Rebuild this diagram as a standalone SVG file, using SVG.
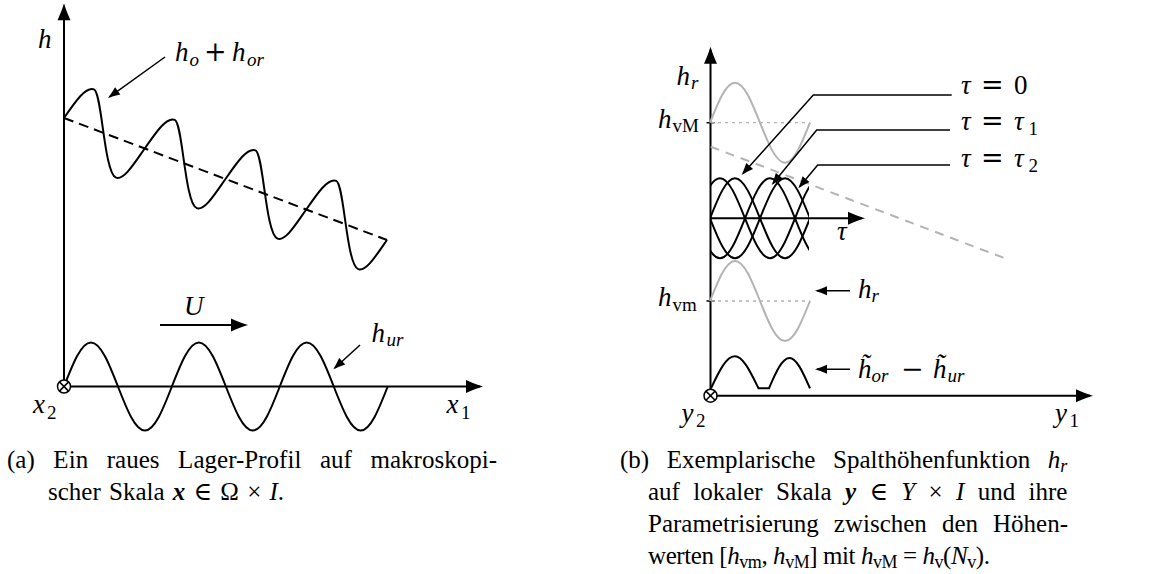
<svg xmlns="http://www.w3.org/2000/svg" width="1155" height="574" viewBox="0 0 1155 574">
<style>
.ln{fill:none;stroke:#000;stroke-width:2}
.th{fill:none;stroke:#000;stroke-width:1.5}
.gr{fill:none;stroke:#b3b3b3;stroke-width:2}
.dot{fill:none;stroke:#b3b3b3;stroke-width:1.3;stroke-dasharray:3 4}
.m{font-family:"Liberation Serif","DejaVu Serif",serif;font-style:italic;font-size:27px;fill:#000}
.s{font-size:19px}
.u{font-style:normal}
.op{font-family:"DejaVu Serif",serif;font-style:normal;font-size:27px}
.cap{font-family:"Liberation Serif","DejaVu Serif",serif;font-size:25px;fill:#000}
.i{font-style:italic}
.bi{font-style:italic;font-weight:bold}
.sub{font-size:18px}
</style>
<defs>
<marker id="ah" viewBox="-16 -8 20 16" refX="0" refY="0" markerWidth="20" markerHeight="16" markerUnits="userSpaceOnUse" orient="auto">
<path d="M3,0 C-2,-1.5 -8,-3.8 -14,-6.5 L-14,6.5 C-8,3.8 -2,1.5 3,0 Z" fill="#000"/>
</marker>
<marker id="as" viewBox="-12 -6 15 12" refX="0" refY="0" markerWidth="15" markerHeight="12" markerUnits="userSpaceOnUse" orient="auto">
<path d="M2,0 C-2,-1.2 -6,-2.8 -10,-4.5 L-10,4.5 C-6,2.8 -2,1.2 2,0 Z" fill="#000"/>
</marker>
<clipPath id="cl"><rect x="710" y="150" width="99" height="140"/></clipPath>
</defs>

<!-- Panel (a) -->
<g id="panel-a">
<g id="a-axes">
<line class="ln" x1="64" y1="386.5" x2="64" y2="6.3" marker-end="url(#ah)"/>
<line class="ln" x1="64" y1="386.5" x2="480" y2="386.5" marker-end="url(#ah)"/>
</g>
<g id="a-upper-profile">
<line class="ln" x1="64" y1="118" x2="387" y2="240" stroke-dasharray="10 6"/>
<path class="ln" vector-effect="non-scaling-stroke" transform="matrix(1 0.37771 0 1 64 118)" d="M0,0 c12,-22 22,-40 30,-40 c8,0 10,80 22,80 c8,0 19.5,-23.5 28.75,-40 c12,-22 22,-40 30,-40 c8,0 10,80 22,80 c8,0 19.5,-23.5 28.75,-40 c12,-22 22,-40 30,-40 c8,0 10,80 22,80 c8,0 19.5,-23.5 28.75,-40 c12,-22 22,-40 30,-40 c8,0 10,80 22,80 c8,0 19.5,-23.5 28.75,-40"/>
</g>
<g id="a-lower-profile">
<path class="ln" d="M64,386.5 c8.797,-22.54 17.213,-44 26.975,-44 c9.762,0 18.178,21.46 26.975,44 c8.797,22.54 17.213,44 26.975,44 c9.762,0 18.178,-21.46 26.975,-44 c8.797,-22.54 17.213,-44 26.975,-44 c9.762,0 18.178,21.46 26.975,44 c8.797,22.54 17.213,44 26.975,44 c9.762,0 18.178,-21.46 26.975,-44 c8.797,-22.54 17.213,-44 26.975,-44 c9.762,0 18.178,21.46 26.975,44 c8.797,22.54 17.213,44 26.975,44 c9.762,0 18.178,-21.46 26.975,-44"/>
</g>
<g id="a-origin">
<circle cx="64" cy="386.5" r="6.5" fill="#fff" stroke="#000" stroke-width="1.5"/>
<path class="th" d="M59.4,381.9 L68.6,391.1 M68.6,381.9 L59.4,391.1"/>
</g>
<g id="a-labels">
<text class="m" x="38" y="48">h</text>
<text class="m" y="61"><tspan x="175">h</tspan><tspan x="189.5" y="65.5" class="s">o</tspan><tspan x="204" y="61" class="op">+</tspan><tspan x="232">h</tspan><tspan x="247" y="65.5" class="s">or</tspan></text>
<text class="m" x="184" y="315">U</text>
<text class="m" y="341.7"><tspan x="371.5">h</tspan><tspan x="386.5" y="345.5" class="s">ur</tspan></text>
<text class="m" y="413"><tspan x="33">x</tspan><tspan x="47" y="419" class="s u">2</tspan></text>
<text class="m" y="413"><tspan x="446.5">x</tspan><tspan x="461" y="419" class="s u">1</tspan></text>
</g>
</g>

<!-- Panel (b) -->
<g id="panel-b">
<g id="b-axes">
<line class="ln" x1="710.5" y1="395.7" x2="710.5" y2="49.7" marker-end="url(#ah)"/>
<line class="ln" x1="710.5" y1="395.7" x2="1090" y2="395.7" marker-end="url(#ah)"/>
<line class="th" x1="706.5" y1="122.7" x2="714.5" y2="122.7"/>
<line class="th" x1="706.5" y1="301" x2="714.5" y2="301"/>
</g>
<g id="b-hr-upper">
<line class="dot" x1="711" y1="122.7" x2="810" y2="122.7"/>
<line x1="710.7" y1="146.7" x2="1005" y2="258.3" stroke="#b3b3b3" stroke-width="2" stroke-dasharray="9 7"/>
<path class="gr" d="M710,122.7 c8.153,-20.49 15.952,-40 25,-40 c9.048,0 16.847,19.51 25,40 c8.153,20.49 15.952,40 25,40 c9.048,0 16.847,-19.51 25,-40"/>
</g>
<g id="b-tau-family">
<line class="ln" x1="710.5" y1="218.3" x2="862" y2="218.3" marker-end="url(#ah)"/>
<g clip-path="url(#cl)">
<path class="ln" d="M710,218.3 c8.153,-20.49 15.952,-40 25,-40 c9.048,0 16.847,19.51 25,40 c8.153,20.49 15.952,40 25,40 c9.048,0 16.847,-19.51 25,-40"/>
<path class="ln" d="M710,218.3 c8.153,20.49 15.952,40 25,40 c9.048,0 16.847,-19.51 25,-40 c8.153,-20.49 15.952,-40 25,-40 c9.048,0 16.847,19.51 25,40"/>
<path class="ln" d="M695,218.3 c8.153,-20.49 15.952,-40 25,-40 c9.048,0 16.847,19.51 25,40 c8.153,20.49 15.952,40 25,40 c9.048,0 16.847,-19.51 25,-40 c8.153,-20.49 15.952,-40 25,-40 c9.048,0 16.847,19.51 25,40"/>
<path class="ln" d="M695,218.3 c8.153,20.49 15.952,40 25,40 c9.048,0 16.847,-19.51 25,-40 c8.153,-20.49 15.952,-40 25,-40 c9.048,0 16.847,19.51 25,40 c8.153,20.49 15.952,40 25,40 c9.048,0 16.847,-19.51 25,-40"/>
</g>
</g>
<g id="b-hr-lower">
<line class="dot" x1="711" y1="301" x2="810" y2="301"/>
<path class="gr" d="M710,301 c8.153,-20.49 15.952,-40 25,-40 c9.048,0 16.847,19.51 25,40 c8.153,20.49 15.952,40 25,40 c9.048,0 16.847,-19.51 25,-40"/>
</g>
<g id="b-diff">
<path class="ln" d="M711,388.3 c7.745,-16.39 15.155,-32 23.75,-32 c8.595,0 16.005,16.39 23.75,32 h10.5 c6.685,-15.52 13.08,-30.3 20.5,-30.3 c7.42,0 13.815,15.52 20.5,30.3"/>
</g>
<g id="b-origin">
<circle cx="710.5" cy="395.7" r="6.5" fill="#fff" stroke="#000" stroke-width="1.5"/>
<path class="th" d="M705.9,391.1 L715.1,400.3 M715.1,391.1 L705.9,400.3"/>
</g>
<g id="b-labels">
<text class="m" y="85"><tspan x="676.5">h</tspan><tspan x="691" y="89" class="s">r</tspan></text>
<text class="m" y="127.5"><tspan x="658">h</tspan><tspan x="672.5" y="132" class="s u">vM</tspan></text>
<text class="m" y="306"><tspan x="658">h</tspan><tspan x="672.5" y="310.5" class="s u">vm</tspan></text>
<text class="m" x="837" y="240">τ</text>
<text class="m" y="94"><tspan x="961">τ</tspan><tspan x="981" class="op">=</tspan><tspan x="1014" class="u">0</tspan></text>
<text class="m" y="130"><tspan x="961">τ</tspan><tspan x="981" class="op">=</tspan><tspan x="1014">τ</tspan><tspan x="1028.5" y="135" class="s u">1</tspan></text>
<text class="m" y="166.5"><tspan x="961">τ</tspan><tspan x="981" class="op">=</tspan><tspan x="1014">τ</tspan><tspan x="1028.5" y="171.5" class="s u">2</tspan></text>
<text class="m" y="298.3"><tspan x="858">h</tspan><tspan x="871.5" y="302" class="s">r</tspan></text>
<text class="m" y="378.3"><tspan x="858">h&#x303;</tspan><tspan x="871.5" y="382" class="s">or</tspan><tspan x="901" y="378.3" class="op">−</tspan><tspan x="933">h&#x303;</tspan><tspan x="947.5" y="382" class="s">ur</tspan></text>
<text class="m" y="421.5"><tspan x="681.5">y</tspan><tspan x="696" y="427" class="s u">2</tspan></text>
<text class="m" y="422"><tspan x="1055">y</tspan><tspan x="1069.5" y="427" class="s u">1</tspan></text>
</g>
</g>

<!-- Connectors (label arrows) -->
<g id="connectors">
<line class="ln" x1="160" y1="325" x2="245" y2="325" stroke-width="2.5" marker-end="url(#ah)"/>
<line class="th" x1="165" y1="57" x2="109.6" y2="96.8" marker-end="url(#as)"/>
<line class="th" x1="360" y1="345" x2="334.8" y2="367.95" marker-end="url(#as)"/>
<polyline class="th" points="951.7,95 813.3,95 743,173.5" marker-end="url(#as)"/>
<polyline class="th" points="950,130 816.7,130 773,183.5" marker-end="url(#as)"/>
<polyline class="th" points="950,165 817.7,165 799.6,186.8" marker-end="url(#as)"/>
<line class="th" x1="850" y1="290.7" x2="817" y2="290.7" marker-end="url(#as)"/>
<line class="th" x1="850" y1="369.3" x2="817" y2="369.3" marker-end="url(#as)"/>
</g>

<!-- Captions -->
<g id="captions">
<text class="cap" x="7" y="468" word-spacing="12.3" textLength="490" lengthAdjust="spacing">(a) Ein raues Lager-Profil auf makroskopi-</text>
<text class="cap" x="48" y="500" word-spacing="2">scher Skala <tspan class="bi">x</tspan> ∈ Ω × <tspan class="i">I</tspan>.</text>
<text class="cap" x="620" y="468" word-spacing="11.4">(b) Exemplarische Spalthöhenfunktion <tspan class="i">h</tspan><tspan class="i sub" dy="4">r</tspan></text>
<text class="cap" x="648" y="500" word-spacing="7.1">auf lokaler Skala <tspan class="bi">y</tspan> ∈ <tspan class="i">Y</tspan> × <tspan class="i">I</tspan> und ihre</text>
<text class="cap" x="648" y="532" word-spacing="8.8" textLength="420" lengthAdjust="spacing">Parametrisierung zwischen den Höhen-</text>
<text class="cap" x="648" y="564" textLength="342" lengthAdjust="spacing">werten [<tspan class="i">h</tspan><tspan class="sub" dy="4">vm</tspan><tspan dy="-4">, </tspan><tspan class="i">h</tspan><tspan class="sub" dy="4">vM</tspan><tspan dy="-4">] mit </tspan><tspan class="i">h</tspan><tspan class="sub" dy="4">vM</tspan><tspan dy="-4"> = </tspan><tspan class="i">h</tspan><tspan class="sub" dy="4">v</tspan><tspan dy="-4">(</tspan><tspan class="i">N</tspan><tspan class="sub" dy="4">v</tspan><tspan dy="-4">).</tspan></text>
</g>
</svg>
